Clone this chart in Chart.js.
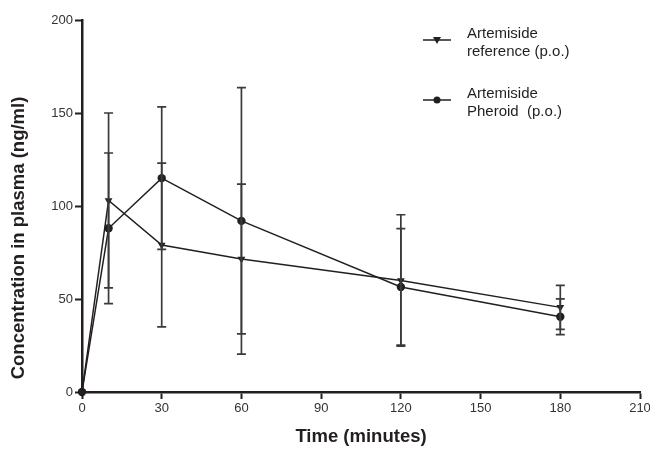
<!DOCTYPE html>
<html>
<head>
<meta charset="utf-8">
<script src="https://cdn.jsdelivr.net/npm/chart.js@4.4.1/dist/chart.umd.min.js"></script>
<style>
  html, body { margin: 0; padding: 0; background: #fff; }
  #wrap { width: 650px; height: 449px; position: relative; }
</style>
</head>
<body>
<div id="wrap"><canvas id="chartPk"></canvas></div>
<script>
// ── Data ─────────────────────────────────
const times = [0, 10, 30, 60, 120, 180];
const refMean = [0, 103, 79, 71.5, 60, 45.5];
const refSd = [0, 47, 44, 40.3, 35.3, 11.8];
const pherMean = [0, 88, 115, 92, 56.5, 40.5];
const pherSd = [0, 40.5, 38.3, 71.6, 31.3, 9.6];
const xTicks = [0, 30, 60, 90, 120, 150, 180, 210];
const yTicks = [0, 50, 100, 150, 200];
const legendLabels = [
    ['Artemiside', 'reference (p.o.)'],
    ['Artemiside', 'Pheroid  (p.o.)']
];
const yTitle = 'Concentration in plasma (ng/ml)';
const xTitle = 'Time (minutes)';

const ink = '#231f20';
const fontFam = "'Liberation Sans', Arial, sans-serif";

// ── Error bars ─────────────────────────────────
const errorBars = {
    id: 'errorBars',
    afterDatasetsDraw(chart) {
        const { ctx, scales: { x, y } } = chart;
        const sets = [[refMean, refSd], [pherMean, pherSd]];
        ctx.save();
        ctx.strokeStyle = '#3a3a3a';
        ctx.lineWidth = 1.7;
        sets.forEach(([m, s]) => {
            times.forEach((t, i) => {
                if (!s[i]) return;
                const px = x.getPixelForValue(t);
                const top = y.getPixelForValue(m[i] + s[i]);
                const bot = y.getPixelForValue(m[i] - s[i]);
                ctx.beginPath();
                ctx.moveTo(px, top); ctx.lineTo(px, bot);
                ctx.moveTo(px - 4.5, top); ctx.lineTo(px + 4.5, top);
                ctx.moveTo(px - 4.5, bot); ctx.lineTo(px + 4.5, bot);
                ctx.stroke();
            });
        });
        ctx.restore();
    }
};

// ── Legend (two-line labels) + y title ─────────────────────────────────
const sideLegend = {
    id: 'sideLegend',
    afterDraw(chart) {
        const { ctx } = chart;
        const rows = [40, 100];
        ctx.save();
        ctx.font = '15px ' + fontFam;
        ctx.fillStyle = ink;
        ctx.textBaseline = 'middle';
        chart.data.datasets.forEach((ds, i) => {
            const yy = rows[i];
            ctx.strokeStyle = ink;
            ctx.lineWidth = 1.5;
            ctx.beginPath(); ctx.moveTo(423, yy); ctx.lineTo(451, yy); ctx.stroke();
            ctx.beginPath();
            if (i === 0) {
                ctx.moveTo(433, yy - 3); ctx.lineTo(441, yy - 3); ctx.lineTo(437, yy + 4);
            } else {
                ctx.arc(437, yy, 3.5, 0, Math.PI * 2);
            }
            ctx.fill();
            ctx.fillText(legendLabels[i][0], 467, yy - 6);
            ctx.fillText(legendLabels[i][1], 467, yy + 12);
        });

        // y axis title sits a little below the plot's middle
        ctx.translate(19, 238);
        ctx.rotate(-Math.PI / 2);
        ctx.textAlign = 'center';
        ctx.font = 'bold 18.5px ' + fontFam;
        ctx.fillText(yTitle, 0, 0);
        ctx.restore();
    }
};

function initChart() {
    Chart.defaults.font.family = fontFam;
    Chart.defaults.color = ink;

    const ctx = document.getElementById('chartPk');
    new Chart(ctx, {
        type: 'line',
        data: {
            datasets: [
                {
                    label: 'Artemiside reference (p.o.)',
                    data: times.map((t, i) => ({ x: t, y: refMean[i] })),
                    borderColor: ink, backgroundColor: ink, borderWidth: 1.5,
                    pointStyle: 'triangle', rotation: 180, pointRadius: 4.5, pointBorderWidth: 0,
                    tension: 0, clip: false
                },
                {
                    label: 'Artemiside Pheroid (p.o.)',
                    data: times.map((t, i) => ({ x: t, y: pherMean[i] })),
                    borderColor: ink, backgroundColor: ink, borderWidth: 1.5,
                    pointStyle: 'circle', pointRadius: 4.2, pointBorderWidth: 0,
                    tension: 0, clip: false
                }
            ]
        },
        options: {
            responsive: true, maintainAspectRatio: false, animation: false,
            layout: { padding: { left: 4, top: 20, right: 0, bottom: 0 } },
            plugins: { legend: { display: false }, tooltip: { enabled: false } },
            scales: {
                x: {
                    type: 'linear', min: 0, max: 210,
                    afterBuildTicks: s => { s.ticks = xTicks.map(v => ({ value: v })); },
                    afterFit: s => { s.height = 57; s.paddingRight = 10; },
                    grid: { drawOnChartArea: false, drawTicks: true, tickLength: 7, tickWidth: 2, tickColor: ink },
                    border: { color: ink, width: 2.5 },
                    ticks: { color: '#333', font: { size: 13 }, padding: 2, maxRotation: 0 },
                    title: { display: true, text: xTitle, font: { size: 18.5, weight: 'bold' }, color: ink, padding: { top: 4, bottom: 1 } }
                },
                y: {
                    min: 0, max: 200,
                    afterBuildTicks: s => { s.ticks = yTicks.map(v => ({ value: v })); },
                    afterFit: s => { s.width = 78; },
                    grid: { drawOnChartArea: false, drawTicks: true, tickLength: 7, tickWidth: 2, tickColor: ink },
                    border: { color: ink, width: 2.5 },
                    ticks: { color: '#333', font: { size: 13 }, padding: 2 }
                }
            }
        },
        plugins: [errorBars, sideLegend]
    });
}

initChart();
</script>
</body>
</html>
